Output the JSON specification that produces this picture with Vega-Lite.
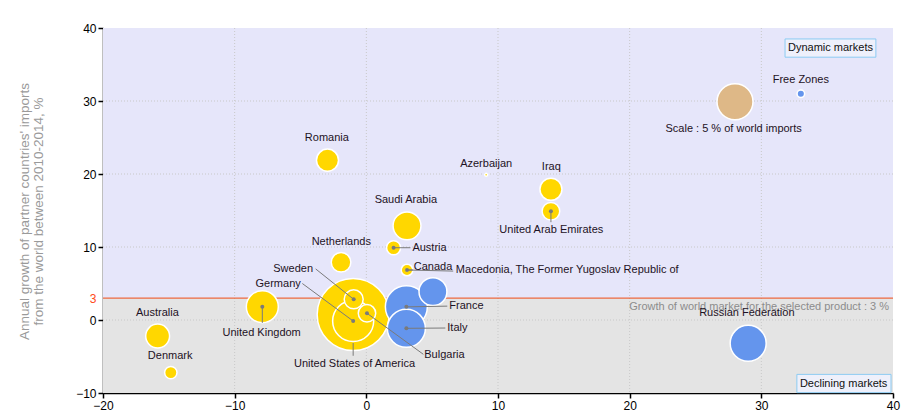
{
  "$schema": "https://vega.github.io/schema/vega-lite/v6.json",
  "width": 790,
  "height": 365,
  "autosize": {"type": "none"},
  "padding": {"left": 103, "top": 28, "right": 17, "bottom": 25},
  "background": "#ffffff",
  "config": {"font": "Liberation Sans", "view": {"stroke": null}},
  "datasets": {
    "zones": [
      {"zone": "Dynamic markets", "y0": 3, "y1": 40},
      {"zone": "Declining markets", "y0": -10, "y1": 3}
    ],
    "gridx": [{"v": -10}, {"v": 0}, {"v": 10}, {"v": 20}, {"v": 30}],
    "gridy": [{"v": 0}, {"v": 10}, {"v": 20}, {"v": 30}],
    "boxes": [
      {"label": "Dynamic markets", "x0": 31.8, "x1": 38.7, "y0": 36.0, "y1": 38.5, "tx": 35.25, "ty": 37.3},
      {"label": "Declining markets", "x0": 32.7, "x1": 39.85, "y0": -9.95, "y1": -7.45, "tx": 36.25, "ty": -8.75}
    ],
    "bubbles": [
      {"name": "United States of America", "x": -1.0, "y": 0.75, "share": 20, "kind": "A"},
      {"name": "France", "x": 3.04, "y": 1.8, "share": 6.8, "kind": "B"},
      {"name": "Germany", "x": -1.0, "y": -0.14, "share": 6.5, "kind": "A"},
      {"name": "Italy", "x": 3.04, "y": -1.14, "share": 5.6, "kind": "B"},
      {"name": "Scale : 5 % of world imports", "x": 28.0, "y": 29.9, "share": 5, "kind": "Scale"},
      {"name": "Russian Federation", "x": 29.0, "y": -3.2, "share": 5.0, "kind": "B"},
      {"name": "United Kingdom", "x": -7.9, "y": 1.82, "share": 3.95, "kind": "A"},
      {"name": "Saudi Arabia", "x": 3.09, "y": 12.9, "share": 3.0, "kind": "A"},
      {"name": "", "x": 5.06, "y": 3.88, "share": 3.0, "kind": "B"},
      {"name": "Australia", "x": -15.85, "y": -2.2, "share": 2.2, "kind": "A"},
      {"name": "Romania", "x": -2.95, "y": 21.9, "share": 1.87, "kind": "A"},
      {"name": "Iraq", "x": 14.02, "y": 17.9, "share": 1.87, "kind": "A"},
      {"name": "Netherlands", "x": -1.92, "y": 7.9, "share": 1.48, "kind": "A"},
      {"name": "Sweden", "x": -0.96, "y": 2.83, "share": 1.39, "kind": "A"},
      {"name": "United Arab Emirates", "x": 14.02, "y": 14.9, "share": 1.2, "kind": "A"},
      {"name": "Bulgaria", "x": 0.05, "y": 0.92, "share": 1.17, "kind": "A"},
      {"name": "Austria", "x": 2.07, "y": 9.9, "share": 0.76, "kind": "A"},
      {"name": "Denmark", "x": -14.85, "y": -7.2, "share": 0.59, "kind": "A"},
      {"name": "Canada", "x": 3.09, "y": 6.85, "share": 0.52, "kind": "A"},
      {"name": "Free Zones", "x": 33.0, "y": 31.0, "share": 0.22, "kind": "B"},
      {"name": "Azerbaijan", "x": 9.1, "y": 19.9, "share": 0.035, "kind": "A"},
      {"name": "Macedonia, The Former Yugoslav Republic of", "x": 3.09, "y": 6.85, "share": 0.01, "kind": "A"}
    ],
    "leaders": [
      {"name": "Austria", "x": 2.07, "y": 9.9, "ex": 3.35, "ey": 9.9, "dot": true},
      {"name": "Macedonia, The Former Yugoslav Republic of", "x": 3.09, "y": 6.85, "ex": 6.6, "ey": 6.7, "dot": false},
      {"name": "Canada", "x": 3.09, "y": 6.85, "ex": 3.55, "ey": 6.85, "dot": true},
      {"name": "Sweden", "x": -0.96, "y": 2.83, "ex": -3.85, "ey": 7.0, "dot": true},
      {"name": "Germany", "x": -1.0, "y": -0.14, "ex": -4.86, "ey": 5.0, "dot": true},
      {"name": "France", "x": 3.04, "y": 1.8, "ex": 6.15, "ey": 1.9, "dot": true},
      {"name": "Italy", "x": 3.04, "y": -1.14, "ex": 6.0, "ey": -1.1, "dot": true},
      {"name": "Bulgaria", "x": 0.05, "y": 0.92, "ex": 4.33, "ey": -4.7, "dot": true},
      {"name": "United Kingdom", "x": -7.9, "y": 1.82, "ex": -7.9, "ey": -0.4, "dot": true},
      {"name": "United States of America", "x": -1.0, "y": -3.15, "ex": -1.0, "ey": -4.9, "dot": false},
      {"name": "United Arab Emirates", "x": 14.02, "y": 14.9, "ex": 14.02, "ey": 13.4, "dot": true}
    ],
    "labels": [
      {"text": "Romania", "lx": -3.0, "ly": 25.0, "side": "c"},
      {"text": "Azerbaijan", "lx": 9.1, "ly": 21.4, "side": "c"},
      {"text": "Iraq", "lx": 14.05, "ly": 20.9, "side": "c"},
      {"text": "United Arab Emirates", "lx": 14.05, "ly": 12.3, "side": "c"},
      {"text": "Saudi Arabia", "lx": 3.0, "ly": 16.4, "side": "c"},
      {"text": "Netherlands", "lx": -1.9, "ly": 10.7, "side": "c"},
      {"text": "United Kingdom", "lx": -7.95, "ly": -1.73, "side": "c"},
      {"text": "United States of America", "lx": -0.9, "ly": -6.03, "side": "c"},
      {"text": "Australia", "lx": -15.87, "ly": 1.0, "side": "c"},
      {"text": "Denmark", "lx": -14.9, "ly": -4.93, "side": "c"},
      {"text": "Russian Federation", "lx": 28.9, "ly": 1.0, "side": "c"},
      {"text": "Free Zones", "lx": 33.0, "ly": 32.9, "side": "c"},
      {"text": "Scale : 5 % of world imports", "lx": 27.9, "ly": 26.2, "side": "c"},
      {"text": "Austria", "lx": 3.5, "ly": 9.9, "side": "l"},
      {"text": "Canada", "lx": 3.6, "ly": 7.3, "side": "l"},
      {"text": "Macedonia, The Former Yugoslav Republic of", "lx": 6.8, "ly": 6.85, "side": "l"},
      {"text": "France", "lx": 6.3, "ly": 1.9, "side": "l"},
      {"text": "Italy", "lx": 6.15, "ly": -1.1, "side": "l"},
      {"text": "Bulgaria", "lx": 4.4, "ly": -4.8, "side": "l"},
      {"text": "Sweden", "lx": -4.05, "ly": 7.0, "side": "r"},
      {"text": "Germany", "lx": -4.98, "ly": 5.0, "side": "r"}
    ],
    "threshold": [{"v": 3, "note": "Growth of world market for the selected product : 3 %", "tx": 39.7, "ty": 1.78}]
  },
  "layer": [
    {
      "data": {"name": "zones"},
      "transform": [{"filter": "datum.zone === 'Dynamic markets'"}],
      "mark": {"type": "rect", "fill": "#E6E6FA"},
      "encoding": {
        "x": {"datum": -20, "type": "quantitative", "scale": {"domain": [-20, 40], "nice": false, "zero": false},
          "axis": {"values": [-20, -10, 0, 10, 20, 30, 40], "grid": false, "title": null, "labelFontSize": 12, "labelColor": "#000", "tickColor": "#000", "domainColor": "#000", "domainWidth": 1.5, "tickWidth": 1.5, "tickSize": 5, "labelPadding": 2, "labelFlush": false}},
        "x2": {"datum": 40},
        "y": {"field": "y0", "type": "quantitative", "scale": {"domain": [-10, 40], "nice": false, "zero": false},
          "axis": {
            "values": [-10, 0, 3, 10, 20, 30, 40], "grid": false,
            "title": ["Annual growth of partner countries' imports", "from the world between 2010-2014, %"],
            "titleColor": "#9a9a9a", "titleFontSize": 13.5, "titleFontWeight": "normal",
            "titleX": -79, "titleY": 183, "titleAngle": -90, "titleBaseline": "middle", "titleAlign": "center", "titleLineHeight": 14,
            "labelFontSize": 12, "tickSize": 5, "labelPadding": 2, "domainColor": "#000", "domainWidth": 1.5, "tickWidth": 1.5, "labelFlush": false,
            "labelColor": {"condition": {"test": "datum.value === 3", "value": "#FF4A1A"}, "value": "#000"},
            "tickColor": {"condition": {"test": "datum.value === 3", "value": "transparent"}, "value": "#000"}
          }},
        "y2": {"field": "y1"}
      }
    },
    {
      "data": {"name": "zones"},
      "transform": [{"filter": "datum.zone === 'Declining markets'"}],
      "mark": {"type": "rect", "fill": "#E4E4E4"},
      "encoding": {
        "x": {"datum": -20, "type": "quantitative"},
        "x2": {"datum": 40},
        "y": {"field": "y0", "type": "quantitative"},
        "y2": {"field": "y1"}
      }
    },
    {
      "data": {"name": "gridx"},
      "mark": {"type": "rule", "stroke": "#C8C8C8", "strokeDash": [1, 2], "strokeWidth": 1},
      "encoding": {"x": {"field": "v", "type": "quantitative"}}
    },
    {
      "data": {"name": "gridy"},
      "mark": {"type": "rule", "stroke": "#C8C8C8", "strokeDash": [1, 2], "strokeWidth": 1},
      "encoding": {"y": {"field": "v", "type": "quantitative"}}
    },
    {
      "data": {"name": "threshold"},
      "mark": {"type": "rule", "stroke": "#F04B16", "strokeWidth": 1},
      "encoding": {"y": {"field": "v", "type": "quantitative"}}
    },
    {
      "data": {"name": "threshold"},
      "mark": {"type": "text", "align": "right", "baseline": "middle", "fontSize": 11, "color": "#8c8c8c"},
      "encoding": {
        "x": {"field": "tx", "type": "quantitative"},
        "y": {"field": "ty", "type": "quantitative"},
        "text": {"field": "note"}
      }
    },
    {
      "data": {"name": "boxes"},
      "mark": {"type": "rect", "fill": "#EEF0FB", "stroke": "#8CCBF2", "strokeWidth": 1},
      "encoding": {
        "x": {"field": "x0", "type": "quantitative"},
        "x2": {"field": "x1"},
        "y": {"field": "y0", "type": "quantitative"},
        "y2": {"field": "y1"}
      }
    },
    {
      "data": {"name": "boxes"},
      "mark": {"type": "text", "align": "center", "baseline": "middle", "fontSize": 11, "color": "#111"},
      "encoding": {
        "x": {"field": "tx", "type": "quantitative"},
        "y": {"field": "ty", "type": "quantitative"},
        "text": {"field": "label"}
      }
    },
    {
      "data": {"name": "bubbles"},
      "mark": {"type": "point", "shape": "circle", "filled": true, "opacity": 1, "stroke": "#ffffff", "strokeWidth": 1.5},
      "encoding": {
        "x": {"field": "x", "type": "quantitative"},
        "y": {"field": "y", "type": "quantitative"},
        "size": {"field": "share", "type": "quantitative", "scale": {"type": "linear", "domain": [0, 20], "range": [0, 5184], "zero": true}, "legend": null},
        "fill": {"field": "kind", "type": "nominal", "scale": {"domain": ["A", "B", "Scale"], "range": ["#FFD700", "#6495ED", "#DEB887"]}, "legend": null},
        "order": {"field": "share", "type": "quantitative", "sort": "descending"}
      }
    },
    {
      "data": {"name": "leaders"},
      "mark": {"type": "rule", "stroke": "#7a7a7a", "strokeWidth": 1},
      "encoding": {
        "x": {"field": "x", "type": "quantitative"},
        "y": {"field": "y", "type": "quantitative"},
        "x2": {"field": "ex"},
        "y2": {"field": "ey"}
      }
    },
    {
      "data": {"name": "leaders"},
      "transform": [{"filter": "datum.dot"}],
      "mark": {"type": "point", "shape": "circle", "filled": true, "opacity": 1, "color": "#7a7a7a", "size": 16},
      "encoding": {
        "x": {"field": "x", "type": "quantitative"},
        "y": {"field": "y", "type": "quantitative"}
      }
    },
    {
      "data": {"name": "labels"},
      "transform": [{"filter": "datum.side === 'c'"}],
      "mark": {"type": "text", "align": "center", "baseline": "middle", "fontSize": 11, "color": "#1e1224"},
      "encoding": {
        "x": {"field": "lx", "type": "quantitative"},
        "y": {"field": "ly", "type": "quantitative"},
        "text": {"field": "text"}
      }
    },
    {
      "data": {"name": "labels"},
      "transform": [{"filter": "datum.side === 'l'"}],
      "mark": {"type": "text", "align": "left", "baseline": "middle", "fontSize": 11, "color": "#1e1224"},
      "encoding": {
        "x": {"field": "lx", "type": "quantitative"},
        "y": {"field": "ly", "type": "quantitative"},
        "text": {"field": "text"}
      }
    },
    {
      "data": {"name": "labels"},
      "transform": [{"filter": "datum.side === 'r'"}],
      "mark": {"type": "text", "align": "right", "baseline": "middle", "fontSize": 11, "color": "#1e1224"},
      "encoding": {
        "x": {"field": "lx", "type": "quantitative"},
        "y": {"field": "ly", "type": "quantitative"},
        "text": {"field": "text"}
      }
    }
  ]
}
